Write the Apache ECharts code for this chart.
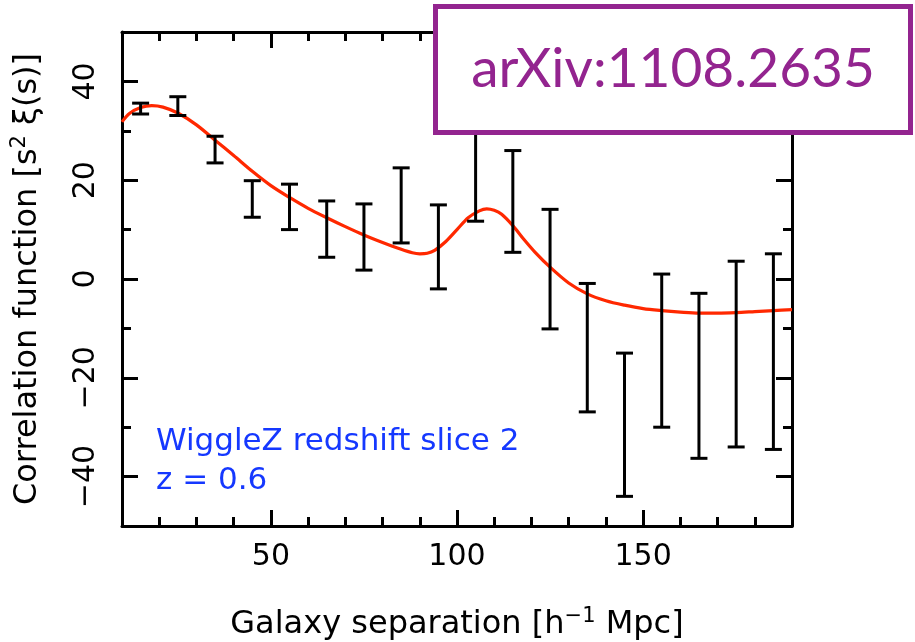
<!DOCTYPE html>
<html>
<head>
<meta charset="utf-8">
<script src="https://cdn.jsdelivr.net/npm/echarts@6/dist/echarts.min.js"></script>
<style>
  html, body { margin: 0; padding: 0; background: #fff; }
  #chart { width: 915px; height: 642px; }
</style>
</head>
<body>
<div id="chart"></div>
<script>
// Galaxy separation bins [h^-1 Mpc]
const separation = [15, 25, 35, 45, 55, 65, 75, 85, 95, 105, 115, 125, 135, 145, 155, 165, 175, 185];
// Measured s^2 xi(s) and its 1-sigma error
const xiMeasured = [34.5, 35.0, 26.2, 16.2, 14.6, 10.1, 8.5, 14.9, 6.5, 21.2, 15.7, 2.0, -13.9, -29.5, -14.5, -19.6, -15.2, -14.7];
const xiError = [1.1, 1.9, 2.7, 3.7, 4.6, 5.7, 6.7, 7.6, 8.5, 9.5, 10.3, 12.1, 13.0, 14.5, 15.5, 16.7, 18.8, 19.8];

// Best-fitting model curve
const modelSeparation = [10, 12, 15, 18, 21, 25, 30, 35, 40, 45, 50, 55, 60, 65, 70, 75, 80, 85, 88, 90, 92, 94, 97, 100, 103, 106, 108, 110, 112, 115, 118, 121, 125, 130, 135, 140, 145, 150, 155, 160, 165, 170, 175, 180, 185, 190];
const modelXi = [31.8, 33.5, 34.7, 35.1, 34.8, 33.6, 31.2, 28.1, 25.0, 21.8, 18.9, 16.5, 14.3, 12.4, 10.6, 8.9, 7.4, 6.0, 5.3, 5.1, 5.2, 5.8, 7.6, 10.0, 12.4, 13.8, 14.2, 13.9, 13.1, 10.8, 8.0, 5.4, 2.4, -0.8, -3.0, -4.4, -5.3, -6.0, -6.4, -6.7, -6.9, -6.9, -6.8, -6.6, -6.4, -6.2];

// Axis tick labels
const xTickLabels = [50, 100, 150];
const yTickLabels = [-40, -20, 0, 20, 40];

const FONT = 'DejaVu Sans';
const INK = '#000000';

const chart = echarts.init(document.getElementById('chart'), null, { renderer: 'canvas' });

function majorX(position, withLabels, extra) {
  return Object.assign({
    type: 'value', min: 10, max: 190, position: position,
    axisLine: { show: true, onZero: false, lineStyle: { color: INK, width: 3 } },
    axisTick: { show: true, inside: true, length: 16, customValues: xTickLabels, lineStyle: { color: INK, width: 3 } },
    axisLabel: withLabels ? {
      show: true, customValues: xTickLabels, margin: 16,
      color: INK, fontFamily: FONT, fontSize: 30
    } : { show: false },
    splitLine: { show: false }
  }, extra || {});
}
function minorX(position) {
  return {
    type: 'value', min: 10, max: 190, interval: 10, position: position,
    axisLine: { show: false, onZero: false },
    axisTick: { show: true, inside: true, length: 9, lineStyle: { color: INK, width: 3 } },
    axisLabel: { show: false },
    splitLine: { show: false }
  };
}
function majorY(position, withLabels, extra) {
  return Object.assign({
    type: 'value', min: -50, max: 50, position: position,
    axisLine: { show: true, onZero: false, lineStyle: { color: INK, width: 3 } },
    axisTick: { show: true, inside: true, length: 16, customValues: yTickLabels, lineStyle: { color: INK, width: 3 } },
    axisLabel: withLabels ? {
      show: true, customValues: yTickLabels, rotate: 90, margin: 21,
      color: INK, fontFamily: FONT, fontSize: 30,
      formatter: v => String(v).replace('-', '\u2212')
    } : { show: false },
    splitLine: { show: false }
  }, extra || {});
}
function minorY(position) {
  return {
    type: 'value', min: -50, max: 50, interval: 10, position: position,
    axisLine: { show: false, onZero: false },
    axisTick: { show: true, inside: true, length: 9, lineStyle: { color: INK, width: 3 } },
    axisLabel: { show: false },
    splitLine: { show: false }
  };
}

const supStyle = { fontFamily: FONT, fontSize: 21, color: INK, verticalAlign: 'top', lineHeight: 37 };

const option = {
  backgroundColor: '#ffffff',
  animation: false,
  grid: { left: 122, right: 123, top: 32, bottom: 116, containLabel: false, outerBoundsMode: 'none' },
  xAxis: [
    majorX('bottom', true, {
      name: 'Galaxy separation [h{sup|\u22121} Mpc]',
      nameLocation: 'middle', nameGap: 80,
      nameTextStyle: {
        fontFamily: FONT, fontSize: 32, color: INK, lineHeight: 37,
        rich: { sup: supStyle }
      }
    }),
    minorX('bottom'),
    majorX('top', false),
    minorX('top')
  ],
  yAxis: [
    majorY('left', true, {
      name: 'Correlation function [s{sup|2} \u03be(s)]',
      nameLocation: 'middle', nameGap: 76, nameRotate: 90,
      nameTextStyle: {
        fontFamily: FONT, fontSize: 32, color: INK, lineHeight: 37,
        rich: { sup: supStyle }
      }
    }),
    minorY('left'),
    majorY('right', false),
    minorY('right')
  ],
  series: [
    {
      name: 'model',
      type: 'line',
      xAxisIndex: 0, yAxisIndex: 0,
      data: modelSeparation.map((s, i) => [s, modelXi[i]]),
      smooth: 0.3,
      showSymbol: false,
      symbol: 'none',
      lineStyle: { color: '#ff2800', width: 3.2 },
      z: 3
    },
    {
      name: 'data',
      type: 'custom',
      xAxisIndex: 0, yAxisIndex: 0,
      data: separation.map((s, i) => [s, xiMeasured[i] - xiError[i], xiMeasured[i] + xiError[i]]),
      renderItem: function (params, api) {
        const lo = api.coord([api.value(0), api.value(1)]);
        const hi = api.coord([api.value(0), api.value(2)]);
        const half = 8.5;
        const style = { stroke: INK, lineWidth: 3, fill: null };
        return {
          type: 'group',
          children: [
            { type: 'line', shape: { x1: lo[0], y1: lo[1], x2: hi[0], y2: hi[1] }, style: style },
            { type: 'line', shape: { x1: lo[0] - half, y1: lo[1], x2: lo[0] + half, y2: lo[1] }, style: style },
            { type: 'line', shape: { x1: hi[0] - half, y1: hi[1], x2: hi[0] + half, y2: hi[1] }, style: style }
          ]
        };
      },
      z: 4
    }
  ],
  graphic: [
    {
      type: 'text', left: 156, top: 426, z: 20,
      style: { text: 'WiggleZ redshift slice 2', fill: '#1538ff', font: '31px "DejaVu Sans"' }
    },
    {
      type: 'text', left: 156, top: 465, z: 20,
      style: { text: 'z = 0.6', fill: '#1538ff', font: '31px "DejaVu Sans"' }
    },
    {
      type: 'rect', z: 30,
      shape: { x: 435.5, y: 6.5, width: 475, height: 126 },
      style: { fill: '#ffffff', stroke: '#93248f', lineWidth: 5 }
    },
    {
      type: 'text', z: 31, x: 673, y: 69,
      style: {
        text: 'arXiv:1108.2635', fill: '#93248f',
        font: '55px Lato', align: 'center', verticalAlign: 'middle'
      }
    }
  ]
};

chart.setOption(option);
</script>
</body>
</html>
